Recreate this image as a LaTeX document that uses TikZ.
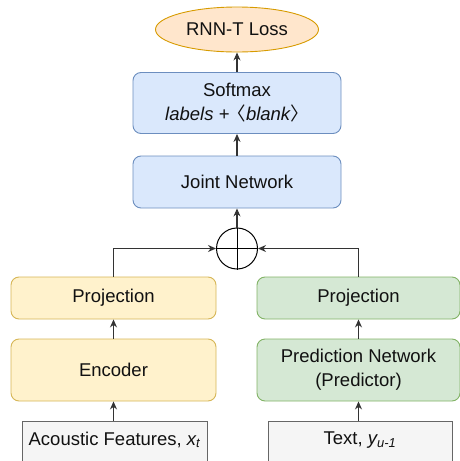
\documentclass[tikz,border=0pt]{standalone}
\usepackage{fontspec}
\setmainfont{Liberation Sans}
\newfontfamily\cjk{Noto Sans CJK SC}
\usetikzlibrary{arrows.meta,shapes.geometric}
\definecolor{bluefill}{HTML}{DAE8FC}\definecolor{bluestroke}{HTML}{6C8EBF}
\definecolor{yelfill}{HTML}{FFF2CC}\definecolor{yelstroke}{HTML}{D6B656}
\definecolor{grnfill}{HTML}{D5E8D4}\definecolor{grnstroke}{HTML}{82B366}
\definecolor{orfill}{HTML}{FFE6CC}\definecolor{orstroke}{HTML}{D79B00}
\definecolor{grayfill}{HTML}{F5F5F5}\definecolor{graystroke}{HTML}{666666}
\definecolor{txt}{HTML}{111111}
\definecolor{arrowgray}{HTML}{333333}
\begin{document}
\begin{tikzpicture}[x=1pt,y=-1pt,
  every node/.style={text=txt, font=\fontsize{18.5}{24}\selectfont, inner sep=0pt},
  rbox/.style={draw, rounded corners=8pt, line width=0.9pt, align=center},
  bluebox/.style={rbox, fill=bluefill, draw=bluestroke},
  yelbox/.style={rbox, fill=yelfill, draw=yelstroke},
  grnbox/.style={rbox, fill=grnfill, draw=grnstroke},
  arr/.style={draw=arrowgray, line width=1.1pt, -{Stealth[length=8pt,width=7pt]}},
]
\useasboundingbox (0,0) rectangle (460,461);
% top
\node[ellipse, fill=orfill, draw=orstroke, line width=0.9pt, minimum width=163pt, minimum height=45pt] (loss) at (237,29.5) {RNN-T Loss};
\node[bluebox, minimum width=208pt, minimum height=61pt] (soft) at (237,103) {Softmax\\\itshape labels +\kern-2pt{\cjk 〈}blank{\cjk 〉}};
\node[bluebox, minimum width=208pt, minimum height=52pt] (joint) at (237,182) {Joint Network};
\node[circle, draw=black, line width=1pt, minimum size=41pt] (plus) at (237,248.5) {};
\draw[black, line width=1pt] (plus.north) -- (plus.south) (plus.west) -- (plus.east);
% left
\node[yelbox, minimum width=205pt, minimum height=42pt] (lp) at (113.5,298) {Projection};
\node[yelbox, minimum width=205pt, minimum height=62pt] (enc) at (113.5,370) {Encoder};
\path[fill=grayfill, draw=graystroke, line width=0.9pt] (22,421) rectangle (207,490);
\node[minimum width=185pt, minimum height=38pt] (ac) at (114.5,440) {Acoustic Features, \itshape x\textsubscript{t}};
% right
\node[grnbox, minimum width=203pt, minimum height=42pt] (rp) at (358.5,298) {Projection};
\node[grnbox, minimum width=203pt, minimum height=62pt] (pred) at (358.5,370) {Prediction Network\\(Predictor)};
\path[fill=grayfill, draw=graystroke, line width=0.9pt] (268,421) rectangle (452,490);
\node[minimum width=184pt, minimum height=38pt] (tx) at (360,440) {Text, \itshape y\textsubscript{u-1}};
% arrows
\draw[arr] (soft.north) -- (loss.south);
\draw[arr] (joint.north) -- (soft.south);
\draw[arr] (plus.north) -- (joint.south);
\draw[arr] (lp.north) |- (plus.west);
\draw[arr] (rp.north) |- (plus.east);
\draw[arr] (enc.north) -- (lp.south);
\draw[arr] (pred.north) -- (rp.south);
\draw[arr] (ac.north -| enc.south) -- (enc.south);
\draw[arr] (tx.north -| pred.south) -- (pred.south);
\end{tikzpicture}
\end{document}
